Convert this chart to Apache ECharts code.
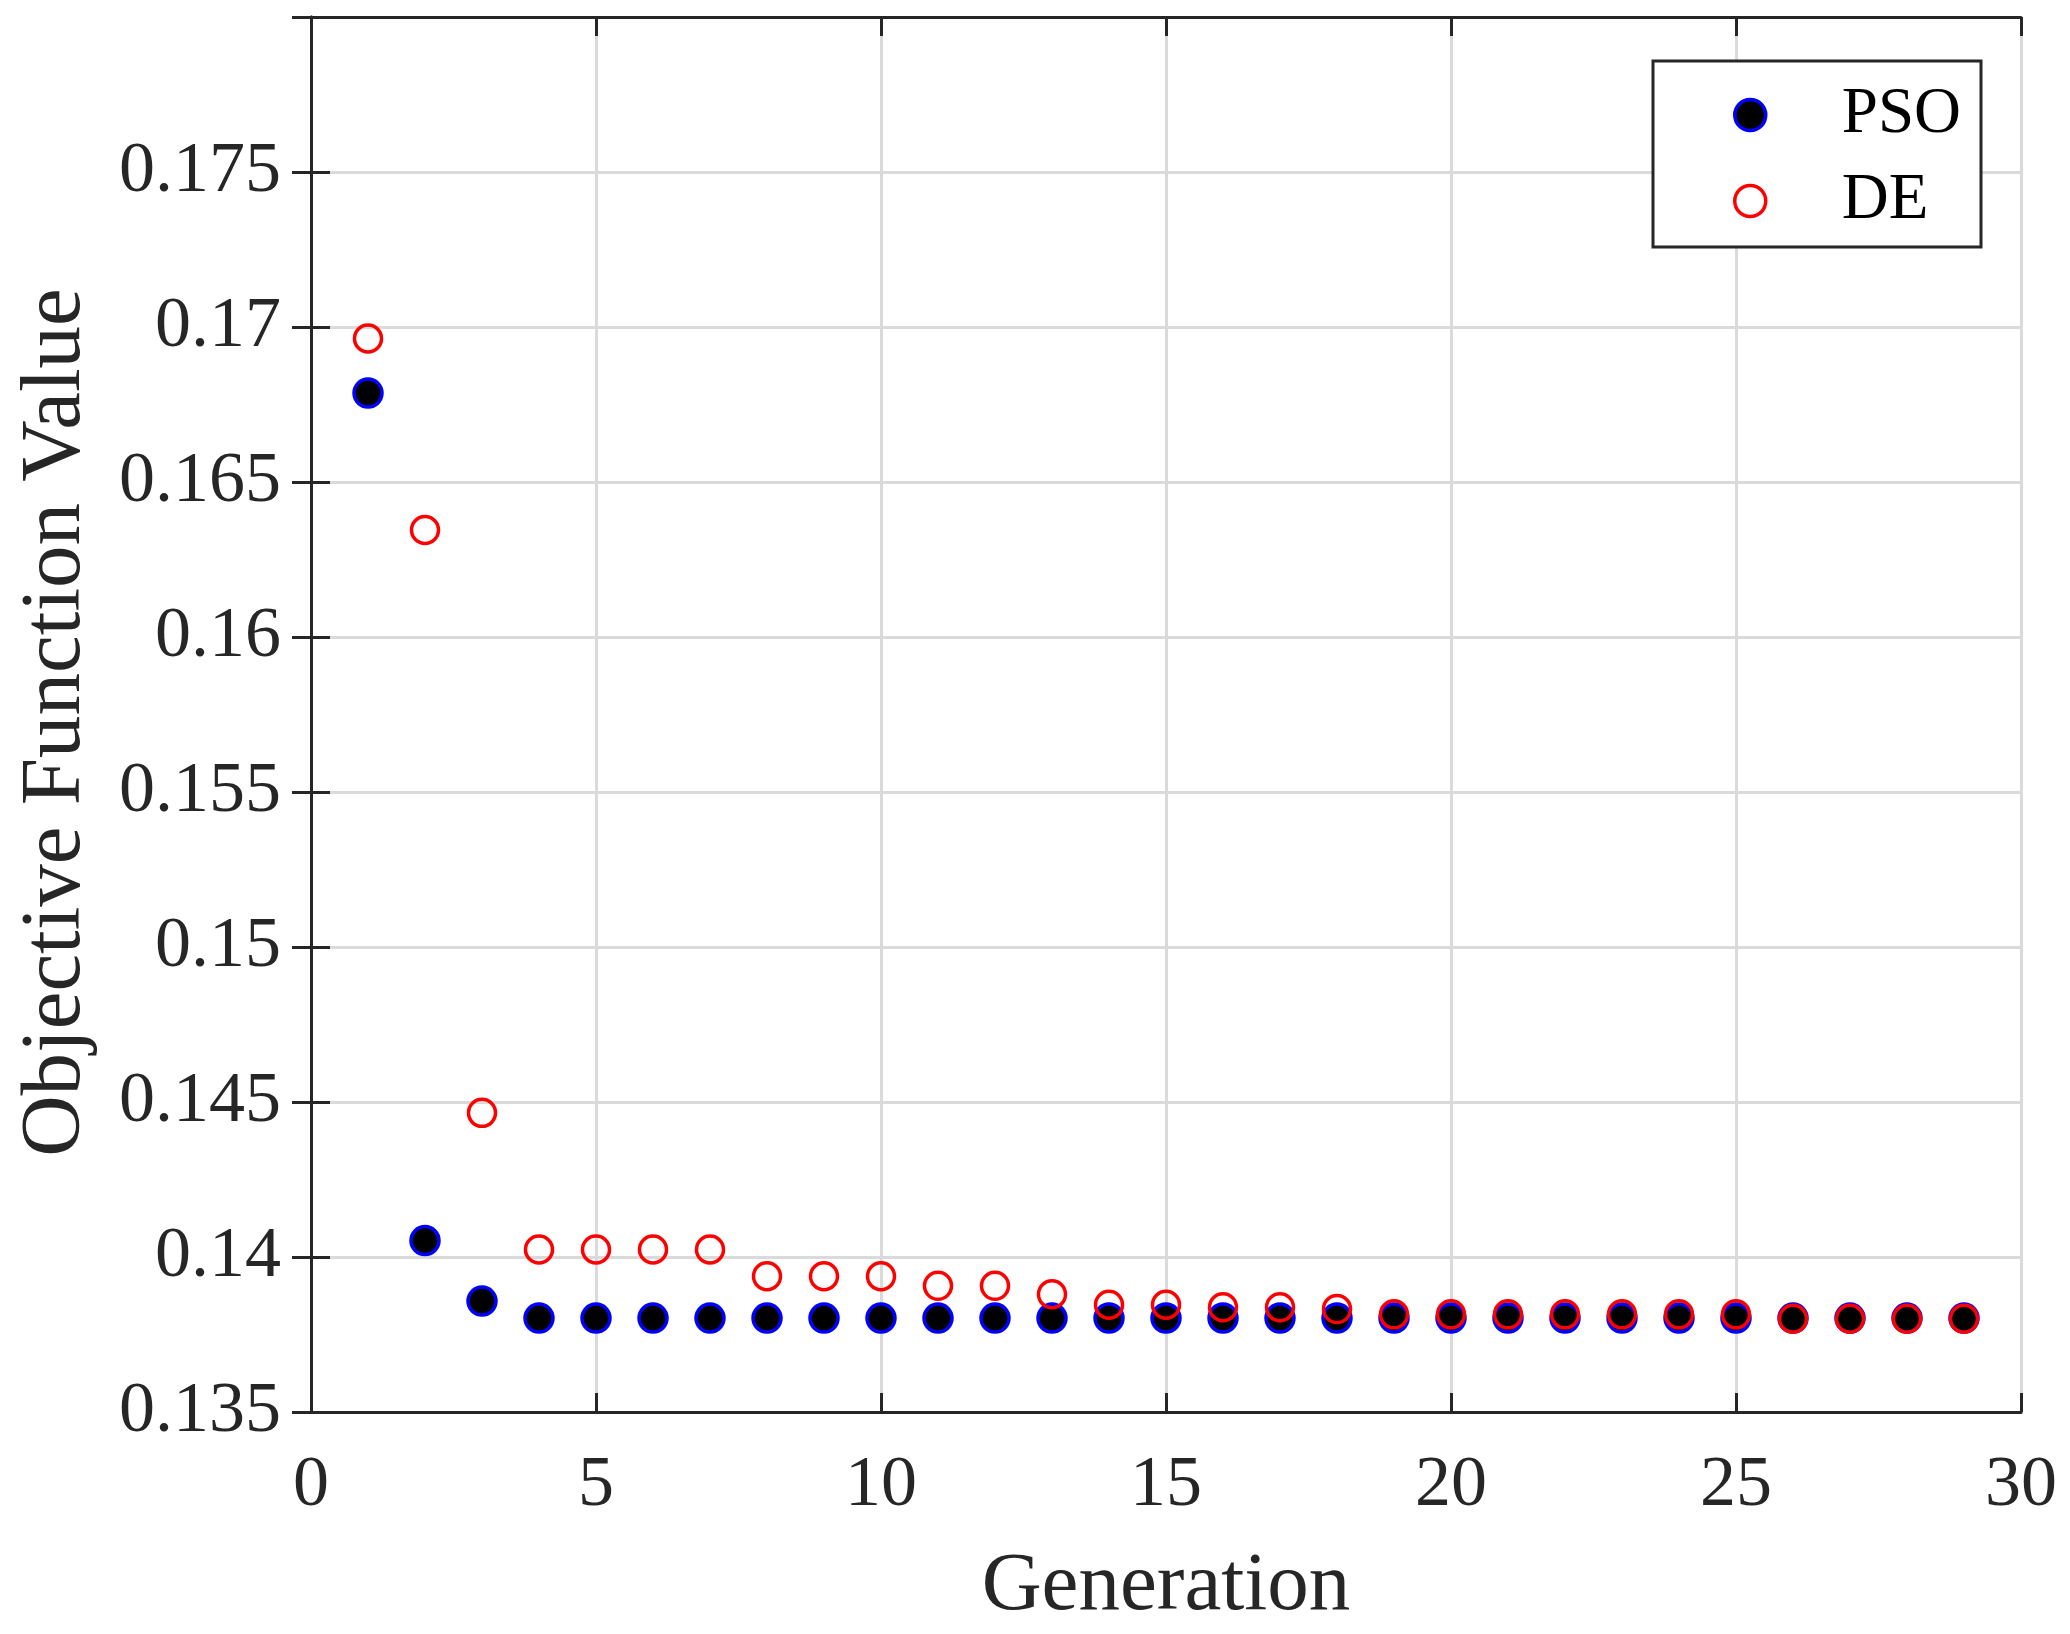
<!DOCTYPE html>
<html>
<head>
<meta charset="utf-8">
<script src="https://cdn.jsdelivr.net/npm/echarts@6/dist/echarts.min.js"></script>
<style>
html,body{margin:0;padding:0;background:#fff;}
#main{width:2070px;height:1634px;}
</style>
</head>
<body>
<div id="main"></div>
<script>
const generations = [1,2,3,4,5,6,7,8,9,10,11,12,13,14,15,16,17,18,19,20,21,22,23,24,25,26,27,28,29];
const psoValues = [0.16787,0.14053,0.13858,0.13803,0.13803,0.13803,0.13803,0.13803,0.13803,0.13803,0.13803,0.13803,0.13803,0.13803,0.13803,0.13803,0.13803,0.13803,0.13803,0.13803,0.13803,0.13803,0.13803,0.13803,0.13803,0.13803,0.13803,0.13803,0.13803];
const deValues = [0.16963,0.16345,0.14465,0.14024,0.14024,0.14024,0.14024,0.13938,0.13938,0.13938,0.13907,0.13907,0.13880,0.13846,0.13846,0.13838,0.13838,0.13832,0.13815,0.13815,0.13815,0.13815,0.13815,0.13815,0.13815,0.13801,0.13801,0.13801,0.13801];
const seriesNames = ['PSO','DE'];
const xTitle = 'Generation';
const yTitle = 'Objective Function Value';

const FONT = '"Liberation Serif", "Times New Roman", serif';
const AX = '#262626';

const chart = echarts.init(document.getElementById('main'), null, {renderer:'canvas'});

const pair = (xs, ys) => xs.map((x,i)=>[x, ys[i]]);

const baseAxisLine = {show:true, lineStyle:{color:AX, width:3}};
const baseTick = {show:true, inside:true, length:19, lineStyle:{color:AX, width:3}};

chart.setOption({
  animation:false,
  backgroundColor:'#fff',
  grid:{left:311, right:49, top:17, bottom:222, containLabel:false},
  xAxis:[{
    type:'value', min:0, max:30, interval:5, position:'bottom',
    name:xTitle, nameLocation:'middle', nameGap:134,
    nameTextStyle:{fontFamily:FONT, fontSize:83, color:AX},
    axisLine:baseAxisLine, axisTick:baseTick,
    axisLabel:{fontFamily:FONT, fontSize:72, color:AX, margin:38},
    splitLine:{show:true, lineStyle:{color:'#dadada', width:3}}
  },{
    type:'value', min:0, max:30, interval:5, position:'top',
    axisLine:baseAxisLine, axisTick:baseTick,
    axisLabel:{show:false}, splitLine:{show:false}
  }],
  yAxis:[{
    type:'value', min:0.135, max:0.18, interval:0.005, position:'left',
    name:yTitle, nameLocation:'middle', nameGap:212, nameRotate:90,
    nameTextStyle:{fontFamily:FONT, fontSize:85, color:AX, padding:[0,16,0,0]},
    axisLine:baseAxisLine, axisTick:baseTick,
    axisLabel:{fontFamily:FONT, fontSize:72, color:AX, margin:30,
      formatter:v => v > 0.1755 ? '' : String(parseFloat(v.toFixed(3)))},
    splitLine:{show:true, lineStyle:{color:'#dadada', width:3}}
  },{
    type:'value', min:0.135, max:0.18, interval:0.005, position:'right',
    axisLine:baseAxisLine, axisTick:baseTick,
    axisLabel:{show:false}, splitLine:{show:false}
  }],
  legend:{
    orient:'vertical', left:1653, top:61,
    padding:[14,20,6,80], itemGap:6,
    itemWidth:31, itemHeight:31,
    borderColor:AX, borderWidth:3, backgroundColor:'#fff',
    itemStyle:{borderWidth:3.5},
    textStyle:{fontFamily:FONT, fontSize:65, color:'#000', lineHeight:80, padding:[0,0,0,71]},
    data:seriesNames
  },
  series:[{
    name:seriesNames[0], type:'scatter', symbol:'circle', symbolSize:28,
    itemStyle:{color:'#000000', borderColor:'#0000ff', borderWidth:3.5, opacity:1},
    data:pair(generations, psoValues), z:2
  },{
    name:seriesNames[1], type:'scatter', symbol:'circle', symbolSize:27,
    itemStyle:{color:'transparent', borderColor:'#ff0000', borderWidth:3.5, opacity:1},
    data:pair(generations, deValues), z:3
  }]
});
</script>
</body>
</html>
